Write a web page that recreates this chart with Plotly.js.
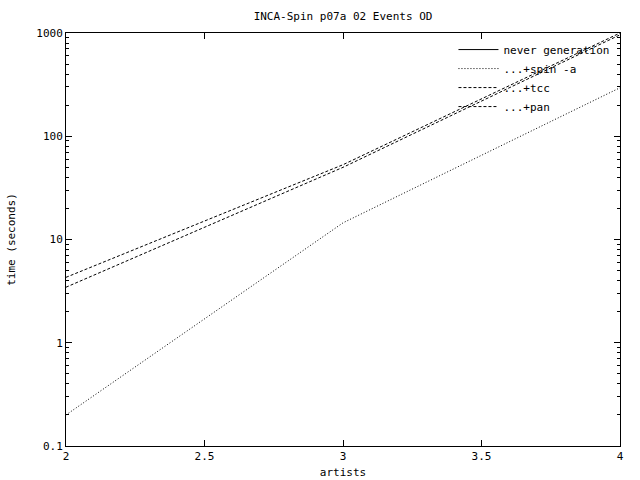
<!DOCTYPE html>
<html>
<head>
<meta charset="utf-8">
<script src="https://cdn.plot.ly/plotly-3.0.1.min.js"></script>
<style>html,body{margin:0;padding:0;background:#fff;}#plot{width:640px;height:480px;}</style>
</head>
<body>
<div id="plot"></div>
<script>
// data
var artists = [2, 3, 4];
var neverGenerationX = [null];     // no visible points in the reference
var neverGeneration = [null];
var spinA = [0.2, 14.5, 295];
var tcc = [4.3, 53, 1000];
var pan = [3.45, 50, 960];
var xTicks = [2, 2.5, 3, 3.5, 4];

var font = {family: 'DejaVu Sans Mono, monospace', size: 11, color: '#000'};

var traces = [
  {x: neverGenerationX, y: neverGeneration, name: 'never generation', mode: 'lines',
   line: {color: '#000', width: 1, dash: 'solid'}, showlegend: true},
  {x: artists, y: spinA, name: '...+spin -a', mode: 'lines',
   line: {color: '#000', width: 1, dash: '1px,2px'}},
  {x: artists, y: tcc, name: '...+tcc', mode: 'lines',
   line: {color: '#000', width: 1, dash: '3px,2px'}},
  {x: artists, y: pan, name: '...+pan', mode: 'lines',
   line: {color: '#000', width: 1, dash: '3px,2px'}}
];

var layout = {
  width: 640, height: 480,
  paper_bgcolor: '#fff', plot_bgcolor: '#fff',
  margin: {l: 66, r: 20, t: 33, b: 34},
  font: font,
  title: {text: 'INCA-Spin p07a 02 Events OD', font: font, x: 0.536, xanchor: 'center', y: 0.967, yanchor: 'middle'},
  showlegend: true,
  legend: {x: 0.99, y: 0.995, xanchor: 'right', yanchor: 'top', bgcolor: 'rgba(0,0,0,0)',
           borderwidth: 0, font: font, tracegroupgap: 0, itemwidth: 40, traceorder: 'normal'},
  xaxis: {
    range: [2, 4], tickmode: 'array', tickvals: xTicks, ticktext: xTicks.map(String),
    ticks: 'inside', ticklen: 6, tickcolor: 'black', tickwidth: 1, layer: 'above traces',
    showline: true, linecolor: 'black', linewidth: 1, mirror: 'allticks',
    showgrid: false, zeroline: false, tickfont: font,
    title: {text: 'artists', font: font, standoff: 6}
  },
  yaxis: {
    type: 'log', range: [-1, 3], tickmode: 'linear', tick0: 0, dtick: 1,
    exponentformat: 'none', layer: 'above traces',
    ticks: 'inside', ticklen: 6, tickcolor: 'black', tickwidth: 1,
    minor: {dtick: 'D1', ticks: 'inside', ticklen: 3,
            tickcolor: 'black', tickwidth: 1, showgrid: false},
    showline: true, linecolor: 'black', linewidth: 1, mirror: 'allticks',
    showgrid: false, zeroline: false, tickfont: font,
    title: {text: 'time (seconds)', font: font, standoff: 18}
  }
};

Plotly.newPlot('plot', traces, layout, {staticPlot: true, displayModeBar: false});
</script>
</body>
</html>
